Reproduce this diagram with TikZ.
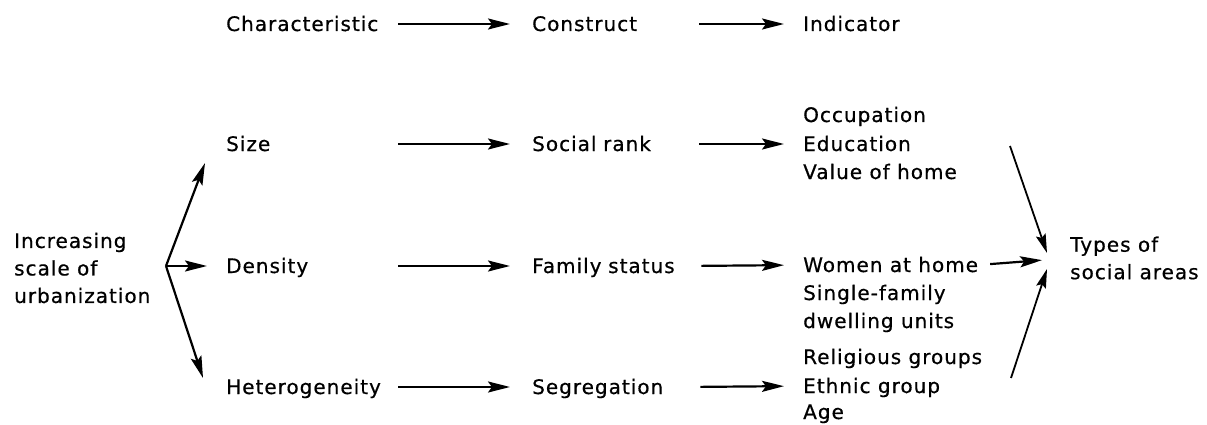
\documentclass[tikz,border=0pt]{standalone}
\usepackage{fontspec}
\setmainfont{DejaVu Sans}[LetterSpace=5,FakeBold=0.6]
\usetikzlibrary{arrows.meta,calc}
\begin{document}
\begin{tikzpicture}[x=1pt,y=-1pt,
  lbl/.style={font=\fontsize{20}{28}\selectfont, inner sep=0pt, text height=14pt, text depth=0pt, anchor=base west},
  colA/.style={lbl, text width=154pt, align=left},
  colB/.style={lbl, text width=153pt, align=left},
  blk/.style={font=\fontsize{20}{27.5}\selectfont, inner sep=0pt, align=left, anchor=west},
  arr/.style={line width=2.2pt, -{Stealth[length=22pt,width=11pt,inset=4pt]}},
  thinarr/.style={line width=1.8pt, -{Stealth[length=19pt,width=10pt,inset=3pt]}}]
\fill[white] (0,0) rectangle (1207,425);
\useasboundingbox (0,0) rectangle (1207,425);

% column headings
\node[colA] (char) at (226,31) {Characteristic};
\node[colB] (cons) at (532,31) {Construct};
\node[lbl]  (ind)  at (803,31) {Indicator};

% size row
\node[colA] (size) at (226,151) {Size};
\node[colB] (rank) at (532,151) {Social rank};
\node[lbl]  (occ)  at (803,122) {Occupation};
\node[lbl]  (edu)  at (803,151) {Education};
\node[lbl]  (val)  at (803,179) {Value of home};

% density row
\node[colA] (dens) at (226,273) {Density};
\node[colB] (fam)  at (532,273) {Family status};
\node[lbl]  (wom)  at (803,272) {Women at home};
\node[lbl]  (sing) at (803,300) {Single-family};
\node[lbl]  (dwel) at (803,328) {dwelling units};

% heterogeneity row
\node[colA] (het) at (226,394) {Heterogeneity};
\node[colB] (seg) at (532,394) {Segregation};
\node[lbl]  (rel) at (803,364) {Religious groups};
\node[lbl]  (eth) at (803,393) {Ethnic group};
\node[lbl]  (age) at (803,419) {Age};

% left and right labels
\node[blk] (urb) at (14,268) {Increasing\\scale of\\urbanization};
\node[blk] (types) at (1070,258) {Types of\\social areas};

% horizontal arrows
\draw[arr, shorten <=18pt, shorten >=22pt] (char.east) -- (cons.west);
\draw[arr, shorten <=18pt, shorten >=22pt] (size.east) -- (rank.west);
\draw[arr, shorten <=18pt, shorten >=22pt] (dens.east) -- (fam.west);
\draw[arr, shorten <=18pt, shorten >=22pt] (het.east) -- (seg.west);
\draw[arr, shorten <=14pt, shorten >=19pt] (cons.east) -- (ind.west);
\draw[arr, shorten <=14pt, shorten >=19pt] (rank.east) -- (edu.west);
\draw[arr, shorten <=16pt, shorten >=19pt] (fam.east) -- (wom.west);
\draw[arr, shorten <=15pt, shorten >=19pt] (seg.east) -- (eth.west);

% fork
\coordinate (fork) at (166,266);
\draw[arr] (fork) -- ($(size.west)+(-21,19)$);
\draw[arr, shorten >=19pt] (fork) -- (dens.west);
\draw[arr] (fork) -- ($(het.west)+(-23,-9)$);

% convergence to types of social areas
\coordinate (s1) at (1010,146);
\coordinate (s3) at (1011,378);
\draw[thinarr] (s1) -- ($(types.west)+(-23,-5)$);
\draw[arr, shorten <=12pt, shorten >=28pt] (wom.east) -- (types.west);
\draw[thinarr] (s3) -- ($(types.west)+(-23,11)$);
\end{tikzpicture}
\end{document}
